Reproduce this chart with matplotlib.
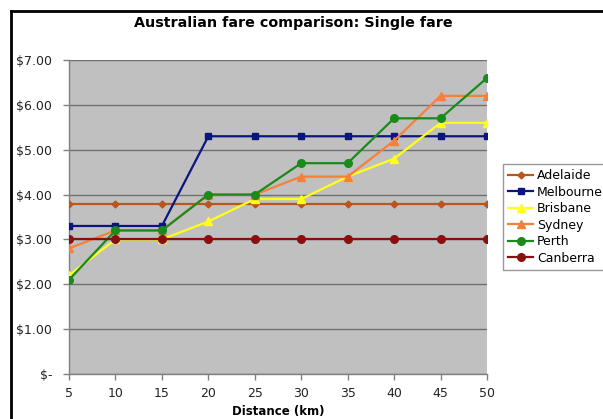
import matplotlib.pyplot as plt
from matplotlib.lines import Line2D
from matplotlib.ticker import FuncFormatter

plt.rcParams['font.family'] = 'DejaVu Sans'

# distancia (km) y tarifa sencilla por ciudad
distancias = [5, 10, 15, 20, 25, 30, 35, 40, 45, 50]
adelaide = [3.80, 3.80, 3.80, 3.80, 3.80, 3.80, 3.80, 3.80, 3.80, 3.80]
melbourne = [3.30, 3.30, 3.30, 5.30, 5.30, 5.30, 5.30, 5.30, 5.30, 5.30]
brisbane = [2.20, 3.00, 3.00, 3.40, 3.90, 3.90, 4.40, 4.80, 5.60, 5.60]
sydney = [2.80, 3.20, 3.20, 4.00, 4.00, 4.40, 4.40, 5.20, 6.20, 6.20]
perth = [2.10, 3.20, 3.20, 4.00, 4.00, 4.70, 4.70, 5.70, 5.70, 6.60]
canberra = [3.00, 3.00, 3.00, 3.00, 3.00, 3.00, 3.00, 3.00, 3.00, 3.00]

series = [
    ("Adelaide", adelaide, "#B8561E", "D", 3.5),
    ("Melbourne", melbourne, "#0A1580", "s", 5),
    ("Brisbane", brisbane, "#FFFF1A", "^", 5.5),
    ("Sydney", sydney, "#F5803A", "^", 5.5),
    ("Perth", perth, "#1A8A1A", "o", 5.5),
    ("Canberra", canberra, "#8A1010", "o", 5.5),
]

fig = plt.figure(figsize=(6.03, 4.19), dpi=100)
ax = fig.add_axes([69 / 603, 1 - 374 / 419, 418 / 603, 314 / 419])
ax.set_facecolor("#C0C0C0")

# marco negro del grafico
fig.add_artist(Line2D([11 / 603, 11 / 603], [0, 1 - 11 / 419], color="black", lw=2, transform=fig.transFigure))
fig.add_artist(Line2D([11 / 603, 1], [1 - 11 / 419, 1 - 11 / 419], color="black", lw=2, transform=fig.transFigure))

for nombre, valores, color, marcador, ms in series:
    ax.plot(distancias, valores, color=color, lw=1.6, marker=marcador, markersize=ms,
            markeredgecolor=color, label=nombre, zorder=3)

ax.set_xlim(distancias[0], distancias[-1])
ax.set_ylim(0, 7)
ax.set_xticks(distancias)
ax.set_yticks(range(0, 8))
ax.yaxis.set_major_formatter(FuncFormatter(lambda v, p: "$-" if v == 0 else f"${v:.2f}"))
ax.grid(axis="y", color="#707070", lw=1, zorder=1)
ax.set_axisbelow(True)

for lado in ["top", "right"]:
    ax.spines[lado].set_visible(False)
for lado in ["left", "bottom"]:
    ax.spines[lado].set_color("#808080")
    ax.spines[lado].set_linewidth(1)

ax.tick_params(axis="both", colors="#808080", length=4, width=1, labelsize=9,
               labelcolor="#222222", direction="out")
ax.tick_params(axis="y", pad=8)
ax.tick_params(axis="x", pad=5)

ax.set_xlabel("Distance (km)", fontsize=8.5, fontweight="bold")
ax.xaxis.set_label_coords(0.5, -0.1)
fig.text(293 / 603, 1 - 23 / 419, "Australian fare comparison: Single fare",
         ha="center", va="center", fontsize=10.3, fontweight="bold")

leg = ax.legend(loc="upper left", bbox_to_anchor=(503 / 603, 1 - 164 / 419),
                bbox_transform=fig.transFigure, fontsize=9, frameon=True, fancybox=False,
                edgecolor="#808080", borderaxespad=0, handlelength=2.0, labelspacing=0.28,
                handletextpad=0.3, borderpad=0.4)
leg.get_frame().set_linewidth(1)

fig.savefig("out.png", dpi=100)
